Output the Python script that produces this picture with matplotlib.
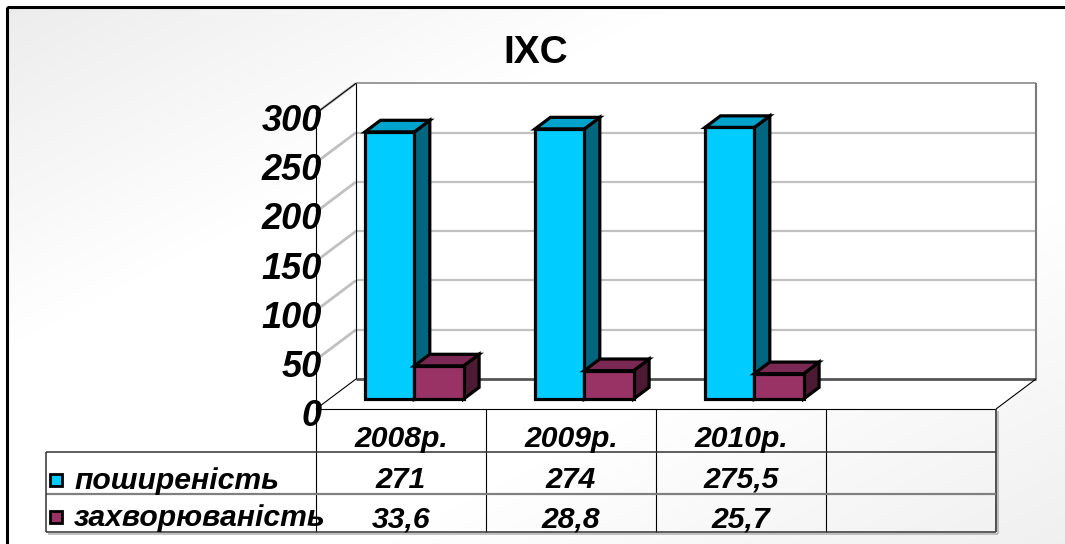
import numpy as np
import matplotlib
matplotlib.use("Agg")
import matplotlib.pyplot as plt
from matplotlib.patches import Polygon, Rectangle

plt.rcParams["font.family"] = ["Liberation Sans", "DejaVu Sans"]

# ---- data -------------------------------------------------------------
title = "IXC"
categories = ["2008р.", "2009р.", "2010р."]
series_names = ["поширеність", "захворюваність"]
prevalence = [271, 274, 275.5]
incidence = [33.6, 28.8, 25.7]
y_ticks = [0, 50, 100, 150, 200, 250, 300]

# ---- styling ----------------------------------------------------------
face_colors = ["#00CCFF", "#993366"]
top_colors = ["#00A3CC", "#7A2952"]
side_colors = ["#006680", "#4D1A33"]
grid_color = "#C0C0C0"

W, H = 1065, 544
fig = plt.figure(figsize=(W / 100, H / 100), dpi=100)

# canvas axes measured in pixels, origin at the top-left corner
cv = fig.add_axes([0, 0, 1, 1], zorder=0)
cv.set_xlim(0, W)
cv.set_ylim(H, 0)
cv.axis("off")

# value axes lying on the front edge of the floor: 4 category slots, 0..300
n_slots = 4
fx0, fx1 = 316, 996
fy0, fy300 = 409, 113.3
ax = fig.add_axes([fx0 / W, 1 - fy0 / H, (fx1 - fx0) / W, (fy0 - fy300) / H], zorder=-1)
ax.set_xlim(0, n_slots)
ax.set_ylim(0, max(y_ticks))
ax.axis("off")

DEPTH = np.array([40.0, 30.0])  # full floor depth in display pixels (right, up)
to_canvas = cv.transData.inverted()


def proj(x, v, d=0.0):
    """Category position x, value v at depth d (0 front .. 1 back) -> canvas px."""
    p = ax.transData.transform((x, v)) + d * DEPTH
    return to_canvas.transform(p)


def seg(p, q, **kw):
    cv.plot([p[0], q[0]], [p[1], q[1]], solid_capstyle="butt", **kw)


# ---- background with soft grey corners --------------------------------
yy, xx = np.mgrid[0:H, 0:W]
s = (xx / W + yy / H) / 2
g = 1 - 0.075 * np.clip(1 - s / 0.32, 0, 1) - 0.06 * np.clip((s - 0.68) / 0.32, 0, 1)
g[:6, :] = 1
g[:, :6] = 1
cv.imshow(np.dstack([g, g, g]), extent=(0, W, H, 0), aspect="auto",
          interpolation="bilinear", zorder=0)
cv.set_xlim(0, W)
cv.set_ylim(H, 0)
cv.add_patch(Rectangle((7, 7), W + 20, H + 20, fill=False, ec="black", lw=2.2, zorder=1))

ymax = max(y_ticks)

# ---- walls and floor --------------------------------------------------
back = [proj(0, 0, 1), proj(n_slots, 0, 1), proj(n_slots, ymax, 1), proj(0, ymax, 1)]
left = [proj(0, 0, 0), proj(0, ymax, 0), proj(0, ymax, 1), proj(0, 0, 1)]
floor = [proj(0, 0, 0), proj(n_slots, 0, 0), proj(n_slots, 0, 1), proj(0, 0, 1)]
for poly in (back, left, floor):
    cv.add_patch(Polygon(poly, closed=True, fc="white", ec="none", zorder=2))

for v in y_ticks[1:-1]:
    seg(proj(0, v, 1), proj(n_slots, v, 1), color=grid_color, lw=1.6, zorder=3)
for v in y_ticks[1:]:
    seg(proj(0, v, 0), proj(0, v, 1), color=grid_color, lw=2.0, zorder=3)

seg(proj(0, ymax, 1), proj(n_slots, ymax, 1), color="#8a8a8a", lw=1.2, zorder=3)
seg(proj(n_slots, 0, 1), proj(n_slots, ymax, 1), color="#7a7a7a", lw=1.5, zorder=3)
seg(proj(0, 0, 1), proj(n_slots, 0, 1), color="#555555", lw=2.0, zorder=3)
seg(proj(0, 0, 1), proj(0, ymax, 1), color="black", lw=0.8, zorder=3)
seg(proj(0, ymax, 0), proj(0, ymax, 1), color="black", lw=0.8, zorder=3)
seg(proj(0, 0, 0), proj(0, 0, 1), color="black", lw=0.8, zorder=3)
seg(proj(n_slots, 0, 0), proj(n_slots, 0, 1), color="black", lw=0.8, zorder=3)
seg(proj(0, 0, 0), proj(n_slots, 0, 0), color="black", lw=0.8, zorder=3)

# ---- bars -------------------------------------------------------------
bar_w = 0.29
d_front, d_back = 1 / 3, 0.72
z = 10
for i in range(len(categories)):
    for j, vals in enumerate([prevalence, incidence]):
        xl = i + 0.5 - bar_w + j * bar_w
        xr = xl + bar_w
        v = vals[i]
        side = [proj(xr, 0, d_front), proj(xr, 0, d_back), proj(xr, v, d_back), proj(xr, v, d_front)]
        top = [proj(xl, v, d_front), proj(xr, v, d_front), proj(xr, v, d_back), proj(xl, v, d_back)]
        front = [proj(xl, 0, d_front), proj(xr, 0, d_front), proj(xr, v, d_front), proj(xl, v, d_front)]
        for poly, col in ((side, side_colors[j]), (top, top_colors[j]), (front, face_colors[j])):
            cv.add_patch(Polygon(poly, closed=True, fc=col, ec="black", lw=2.3,
                                 joinstyle="miter", zorder=z))
            z += 1

# ---- value axis labels ------------------------------------------------
for v in y_ticks:
    px, py = proj(0, v, 0)
    cv.text(px + 6, py + 8, f"{v}", ha="right", va="center", fontsize=26,
            fontweight="bold", fontstyle="italic", zorder=60)

# ---- title ------------------------------------------------------------
cv.text(536, 53, title, ha="center", va="center", fontsize=28, fontweight="bold", zorder=60)

# ---- data table -------------------------------------------------------
col_x = [proj(k, 0, 0)[0] for k in range(n_slots + 1)]
row_top = proj(0, 0, 0)[1]
row_y = [452, 494, 532]
leg_x = 46
tz = 40

seg((col_x[0], proj(0, ymax, 0)[1]), (col_x[0], row_y[2]), color="black", lw=0.8, zorder=tz)
for k in range(1, n_slots):
    seg((col_x[k], row_top), (col_x[k], row_y[2]), color="black", lw=0.8, zorder=tz)
seg((col_x[-1], row_top), (col_x[-1], row_y[2]), color="#333333", lw=1.2, zorder=tz)
seg((col_x[-1] + 2, row_top + 2), (col_x[-1] + 2, row_y[2] + 2), color="#b5b5b5", lw=1.2, zorder=tz - 1)
seg((leg_x + 2, row_y[2] + 2), (col_x[-1] + 2, row_y[2] + 2), color="#b5b5b5", lw=1.2, zorder=tz - 1)
seg((leg_x, row_y[0]), (col_x[-1], row_y[0]), color="#333333", lw=1.1, zorder=tz)
seg((leg_x, row_y[1]), (col_x[-1], row_y[1]), color="#808080", lw=1.6, zorder=tz)
seg((leg_x, row_y[2]), (col_x[-1], row_y[2]), color="#333333", lw=1.1, zorder=tz)
seg((leg_x, row_y[0]), (leg_x, row_y[2]), color="#333333", lw=1.1, zorder=tz)

txt = dict(fontsize=21.7, fontweight="bold", fontstyle="italic", zorder=60)
centers = [(col_x[k] + col_x[k + 1]) / 2 for k in range(len(categories))]


def fmt(v):
    return f"{v:g}".replace(".", ",")


for k, c in enumerate(categories):
    cv.text(centers[k], 439, c, ha="center", va="center", **txt)
    cv.text(centers[k], 480, fmt(prevalence[k]), ha="center", va="center", **txt)
    cv.text(centers[k], 520, fmt(incidence[k]), ha="center", va="center", **txt)

for j, (name, yc) in enumerate(zip(series_names, [480, 517])):
    cv.add_patch(Rectangle((50, yc - 6.5), 12, 12, fc=face_colors[j], ec="black", lw=2.0, zorder=tz + 1))
    cv.text(74, yc + 1, name, ha="left", va="center", **txt)

fig.savefig("out.png", dpi=100)
